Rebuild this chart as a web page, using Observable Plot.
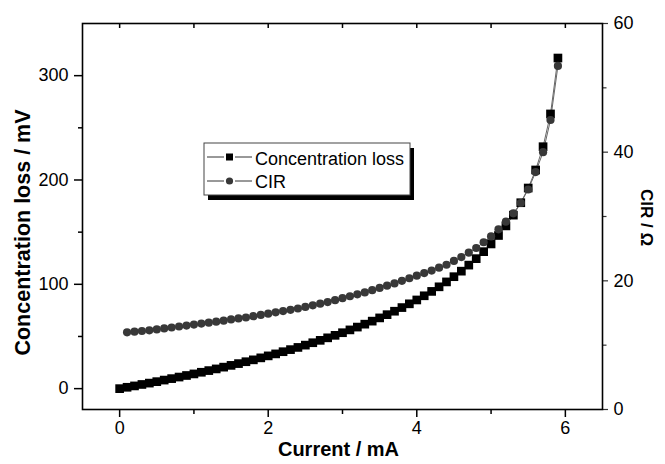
<!DOCTYPE html>
<html>
<head>
<meta charset="utf-8">
<script src="https://cdn.jsdelivr.net/npm/d3@7"></script>
<script src="https://cdn.jsdelivr.net/npm/@observablehq/plot@0.6"></script>
<style>
  html, body { margin: 0; padding: 0; background: #fff; }
  #chart svg { display: block; }
</style>
</head>
<body>
<div id="chart"></div>
<script>
// ---- Data ----
const lossCurrent = [0, 0.1, 0.2, 0.3, 0.4, 0.5, 0.6, 0.7, 0.8, 0.9, 1.0, 1.1, 1.2, 1.3, 1.4, 1.5, 1.6, 1.7, 1.8, 1.9,
  2.0, 2.1, 2.2, 2.3, 2.4, 2.5, 2.6, 2.7, 2.8, 2.9, 3.0, 3.1, 3.2, 3.3, 3.4, 3.5, 3.6, 3.7, 3.8, 3.9,
  4.0, 4.1, 4.2, 4.3, 4.4, 4.5, 4.6, 4.7, 4.8, 4.9, 5.0, 5.1, 5.2, 5.3, 5.4, 5.5, 5.6, 5.7, 5.8, 5.9];
const lossMV = [0, 1.3, 2.6, 4.0, 5.3, 6.7, 8.2, 9.6, 11.1, 12.6, 14.1, 15.7, 17.3, 18.9, 20.6, 22.3, 24.0, 25.8, 27.6, 29.5,
  31.4, 33.3, 35.4, 37.4, 39.5, 41.7, 44.0, 46.3, 48.7, 51.1, 53.6, 56.3, 59.0, 61.8, 64.7, 67.8, 70.9, 74.2, 77.7, 81.3,
  85.0, 89.0, 93.2, 97.6, 102.3, 107.3, 112.6, 118.4, 124.6, 131.3, 138.7, 146.8, 156.0, 166.3, 178.2, 192.3, 209.6, 231.9, 263.3, 316.9];
const cirCurrent = [0.1, 0.2, 0.3, 0.4, 0.5, 0.6, 0.7, 0.8, 0.9, 1.0, 1.1, 1.2, 1.3, 1.4, 1.5, 1.6, 1.7, 1.8, 1.9,
  2.0, 2.1, 2.2, 2.3, 2.4, 2.5, 2.6, 2.7, 2.8, 2.9, 3.0, 3.1, 3.2, 3.3, 3.4, 3.5, 3.6, 3.7, 3.8, 3.9,
  4.0, 4.1, 4.2, 4.3, 4.4, 4.5, 4.6, 4.7, 4.8, 4.9, 5.0, 5.1, 5.2, 5.3, 5.4, 5.5, 5.6, 5.7, 5.8, 5.9];
const cirOhm = [12.0, 12.1, 12.2, 12.3, 12.45, 12.6, 12.75, 12.9, 13.05, 13.2, 13.35, 13.5, 13.65, 13.8, 14.0, 14.15, 14.3, 14.5, 14.7,
  14.9, 15.1, 15.3, 15.5, 15.7, 15.95, 16.2, 16.45, 16.7, 17.0, 17.3, 17.6, 17.9, 18.2, 18.55, 18.9, 19.25, 19.6, 20.0, 20.4,
  20.8, 21.2, 21.6, 22.05, 22.5, 23.1, 23.7, 24.4, 25.1, 26.0, 26.9, 28.0, 29.2, 30.5, 32.1, 34.2, 36.9, 40.0, 45.0, 53.4];

const xTicks = [0, 2, 4, 6];
const xMinorTicks = [1, 3, 5];
const xTopTicks = [0, 1, 2, 3, 4, 5, 6];
const yTicks = [0, 100, 200, 300];
const yMinorTicks = [50, 150, 250];
const y2Ticks = [0, 20, 40, 60];
const y2MinorTicks = [10, 30, 50];

const xLabel = "Current / mA";
const yLabel = "Concentration loss / mV";
const y2Label = "CIR / Ω";
const seriesNames = ["Concentration loss", "CIR"];

// ---- Build tables ----
const lossData = lossCurrent.map((x, i) => ({x, v: lossMV[i]}));
const cirData = cirCurrent.map((x, i) => ({x, v: cirOhm[i]}));

const yDomain = [-20, 350];
const y2Domain = [0, 60];
const y2 = d3.scaleLinear(y2Domain, yDomain); // right axis -> left axis units

const FONT = "'Liberation Sans', Arial, Helvetica, sans-serif";
const blank = () => "";

const chart = Plot.plot({
  width: 665,
  height: 464,
  marginLeft: 82,
  marginRight: 63,
  marginTop: 23,
  marginBottom: 55,
  style: {fontFamily: FONT, fontSize: "18px", color: "#000", background: "#fff"},
  x: {domain: [-0.5, 6.5]},
  y: {domain: yDomain},
  marks: [
    // bottom axis
    Plot.axisX(xTicks, {anchor: "bottom", tickSize: 8, tickPadding: 4, strokeWidth: 1.5, fontSize: 18, label: null}),
    Plot.axisX(xMinorTicks, {anchor: "bottom", tickSize: 5, strokeWidth: 1.5, tickFormat: blank, label: null}),
    // top ticks (inward)
    Plot.axisX(xTopTicks, {anchor: "top", tickSize: 4, dy: 4, strokeWidth: 1.5, tickFormat: blank, label: null}),
    // left axis
    Plot.axisY(yTicks, {anchor: "left", tickSize: 8, tickPadding: 6, strokeWidth: 1.5, fontSize: 18, label: null}),
    Plot.axisY(yMinorTicks, {anchor: "left", tickSize: 4, strokeWidth: 1.5, tickFormat: blank, label: null}),
    // right axis (CIR)
    Plot.axisY(y2Ticks, {anchor: "right", y: y2, tickSize: 5, tickPadding: 6, strokeWidth: 1.2, stroke: "#333", fontSize: 18, tickFormat: d => d, label: null}),
    Plot.axisY(y2MinorTicks, {anchor: "right", y: y2, tickSize: 3.5, strokeWidth: 1.2, stroke: "#333", tickFormat: blank, label: null}),
    // frame
    Plot.frame({stroke: "#000", strokeWidth: 1.6}),
    // series
    Plot.line(lossData, {x: "x", y: "v", stroke: "#666", strokeWidth: 1}),
    Plot.line(cirData, {x: "x", y: d => y2(d.v), stroke: "#666", strokeWidth: 1}),
    Plot.dot(lossData, {x: "x", y: "v", symbol: "square", r: 4.9, fill: "#000", stroke: null}),
    Plot.dot(cirData, {x: "x", y: d => y2(d.v), symbol: "circle", r: 4.1, fill: "#383838", stroke: null}),
    // axis titles
    Plot.text([yLabel], {frameAnchor: "left", textAnchor: "middle", rotate: -90, dx: -59, dy: 16, fontSize: 21.5, fontWeight: "bold", fill: "#000"}),
    Plot.text([xLabel], {frameAnchor: "bottom", textAnchor: "middle", dx: -4, dy: 46, fontSize: 20, fontWeight: "bold", fill: "#000"}),
    Plot.text([y2Label], {frameAnchor: "right", textAnchor: "middle", rotate: 90, dx: 44, dy: 1, fontSize: 17, fontWeight: "bold", fill: "#000"})
  ]
});

document.getElementById("chart").appendChild(chart);

// ---- Legend (boxed, with drop shadow) ----
const svg = d3.select(chart);
const lg = svg.append("g").attr("class", "legend").attr("font-family", FONT).attr("text-anchor", "start");
const bx = 204, by = 143, bw = 206, bh = 52;
lg.append("rect").attr("x", bx + 4).attr("y", by + 5).attr("width", bw).attr("height", bh).attr("fill", "#000");
lg.append("rect").attr("x", bx).attr("y", by).attr("width", bw).attr("height", bh)
  .attr("fill", "#fff").attr("stroke", "#444").attr("stroke-width", 1);
const rows = [
  {name: seriesNames[0], cy: 157, base: 165, sym: "square", fill: "#000"},
  {name: seriesNames[1], cy: 181, base: 188, sym: "circle", fill: "#383838"}
];
rows.forEach(r => {
  lg.append("line").attr("x1", 207).attr("x2", 224).attr("y1", r.cy).attr("y2", r.cy).attr("stroke", "#333").attr("stroke-width", 1);
  lg.append("line").attr("x1", 235).attr("x2", 252).attr("y1", r.cy).attr("y2", r.cy).attr("stroke", "#333").attr("stroke-width", 1);
  if (r.sym === "square") {
    lg.append("rect").attr("x", 229.5 - 3.5).attr("y", r.cy - 3.5).attr("width", 7).attr("height", 7).attr("fill", r.fill);
  } else {
    lg.append("circle").attr("cx", 229.5).attr("cy", r.cy).attr("r", 3.6).attr("fill", r.fill);
  }
  lg.append("text").attr("x", 255).attr("y", r.base).attr("font-size", 18).attr("fill", "#000").text(r.name);
});
</script>
</body>
</html>
